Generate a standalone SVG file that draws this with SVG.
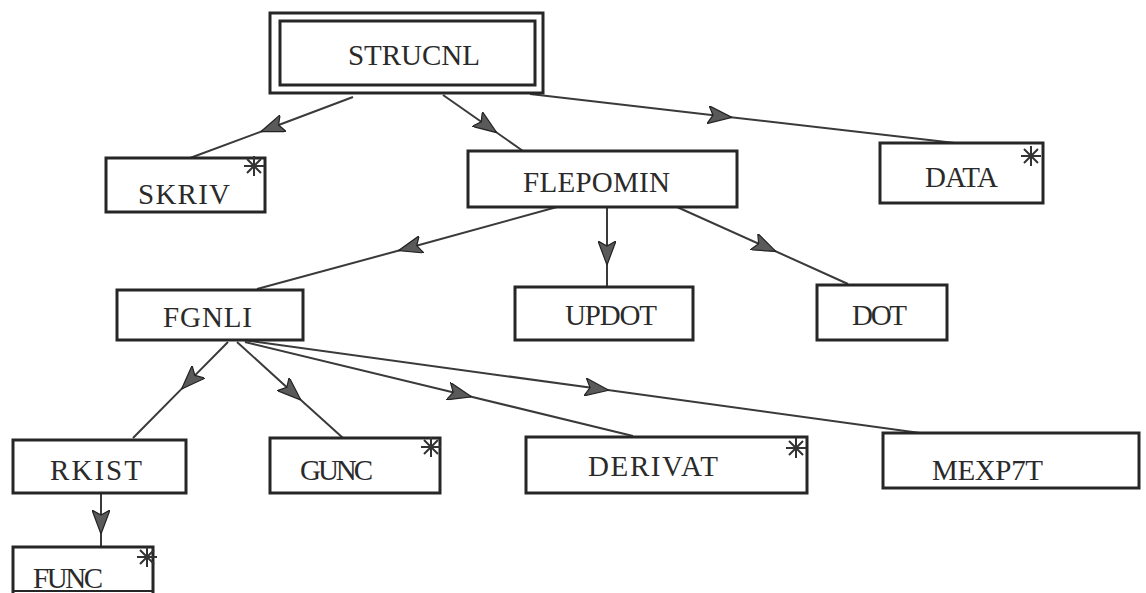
<svg xmlns="http://www.w3.org/2000/svg" width="1146" height="593" viewBox="0 0 1146 593">
<style>
.box{fill:#fff;stroke:#262626;stroke-width:3}
.lbl{font-family:"Liberation Serif","Times New Roman",serif;font-size:29px;fill:#2a2a2a;lengthAdjust:spacing}
.edge{fill:none;stroke:#3a3a3a;stroke-width:2;marker-mid:url(#arr)}
.ast{stroke:#333;stroke-width:2;fill:none}
.head{fill:#5a5a5a;stroke:#222;stroke-width:1.2}
</style>
<defs>
<marker id="arr" viewBox="0 0 24 18" refX="12" refY="9" markerWidth="24" markerHeight="18" markerUnits="userSpaceOnUse" orient="auto">
<path class="head" d="M0,0 L24,9 L0,18 L5,9 Z"/>
</marker>
<g id="star"><path class="ast" d="M-10,0 H10 M0,-10 V10 M-7,-7 L7,7 M-7,7 L7,-7"/></g>
</defs>
<rect width="1146" height="593" fill="#fff"/>
<g id="connectors">
<path class="edge" d="M353,97 L272,127.5 L190,158"/>
<path class="edge" d="M443,95 L487,125.8 L523,151"/>
<path class="edge" d="M530,94 L720,116 L955,143"/>
<path class="edge" d="M557,207 L410,247.5 L257,289"/>
<path class="edge" d="M607,207 L607,253 L607,287"/>
<path class="edge" d="M677,207 L765,246.5 L848,284"/>
<path class="edge" d="M228,342 L190,380.4 L133,438"/>
<path class="edge" d="M237,342 L292,392 L343,438"/>
<path class="edge" d="M245,342 L460,394 L633,436"/>
<path class="edge" d="M243,340 L597,388.6 L920,433"/>
<path class="edge" d="M101,493 L101,522 L101,547"/>
</g>
<g id="STRUCNL">
<rect class="box" x="270" y="13" width="273" height="80"/>
<rect class="box" x="280" y="21" width="255" height="64"/>
<text class="lbl" x="348" y="65" textLength="132">STRUCNL</text>
</g>
<g id="SKRIV">
<rect class="box" x="106" y="158" width="159" height="54"/>
<text class="lbl" x="138" y="204" textLength="92">SKRIV</text>
<use href="#star" x="254" y="166"/>
</g>
<g id="FLEPOMIN">
<rect class="box" x="468" y="151" width="269" height="56"/>
<text class="lbl" x="523" y="192" textLength="147">FLEPOMIN</text>
</g>
<g id="DATA">
<rect class="box" x="880" y="143" width="163" height="60"/>
<text class="lbl" x="925" y="187" textLength="73">DATA</text>
<use href="#star" x="1031" y="156"/>
</g>
<g id="FGNLI">
<rect class="box" x="117" y="290" width="186" height="50"/>
<text class="lbl" x="163" y="327" textLength="89">FGNLI</text>
</g>
<g id="UPDOT">
<rect class="box" x="515" y="287" width="178" height="53"/>
<text class="lbl" x="565" y="325" textLength="92">UPDOT</text>
</g>
<g id="DOT">
<rect class="box" x="817" y="285" width="130" height="55"/>
<text class="lbl" x="852" y="325" textLength="55">DOT</text>
</g>
<g id="RKIST">
<rect class="box" x="13" y="440" width="173" height="53"/>
<text class="lbl" x="50" y="480" textLength="92">RKIST</text>
</g>
<g id="GUNC">
<rect class="box" x="270" y="438" width="170" height="55"/>
<text class="lbl" x="300" y="480" textLength="73">GUNC</text>
<use href="#star" x="431" y="447"/>
</g>
<g id="DERIVAT">
<rect class="box" x="526" y="437" width="281" height="56"/>
<text class="lbl" x="588" y="476" textLength="130">DERIVAT</text>
<use href="#star" x="796" y="448"/>
</g>
<g id="MEXP7T">
<rect class="box" x="883" y="433" width="256" height="55"/>
<text class="lbl" x="932" y="480" textLength="111">MEXP7T</text>
</g>
<g id="FUNC">
<path class="box" d="M13,593 V547 H153 V593"/>
<text class="lbl" x="33" y="588" textLength="70">FUNC</text>
<line x1="13" y1="591" x2="153" y2="591" stroke="#262626" stroke-width="2"/>
<use href="#star" x="147" y="557"/>
</g>
</svg>
